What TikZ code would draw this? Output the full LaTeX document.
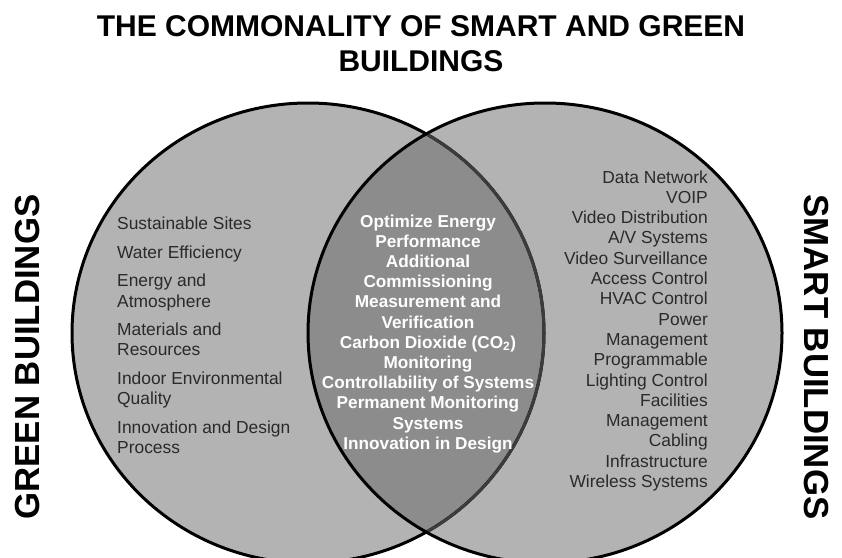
\documentclass[tikz,border=0pt]{standalone}
\usepackage{fontspec}
\setmainfont{Liberation Sans}
\definecolor{ringgray}{HTML}{B3B3B3}
\definecolor{lensgray}{HTML}{8C8C8C}
\definecolor{arcgray}{HTML}{3C3C3C}
\definecolor{txtgray}{HTML}{2A2A2A}
\begin{document}
\begin{tikzpicture}[x=1pt,y=-1pt,
  ring/.style={draw=black, line width=3pt},
  titletext/.style={font=\fontsize{30}{34}\selectfont\bfseries, text=black, inner sep=0pt, anchor=base},
  sidetext/.style={font=\fontsize{34.8}{38}\selectfont\bfseries, text=black, inner sep=0pt, anchor=center},
  leftitem/.style={font=\fontsize{17.4}{20}\selectfont, text=txtgray, inner sep=0pt, anchor=base west},
  rightitem/.style={font=\fontsize{17.4}{20}\selectfont, text=txtgray, inner sep=0pt, anchor=base east},
  lensitem/.style={font=\fontsize{17.2}{20}\selectfont\bfseries, text=white, inner sep=0pt, anchor=base}]
\useasboundingbox (0,0) rectangle (842,557);
\fill[white] (0,0) rectangle (842,557);
\clip (0,0) rectangle (842,557);
% circles
\fill[ringgray] (308,333) ellipse [x radius=236pt, y radius=230pt];
\fill[ringgray] (545,333) ellipse [x radius=237pt, y radius=230pt];
\begin{scope}
  \clip (308,333) ellipse [x radius=236pt, y radius=230pt];
  \fill[lensgray] (545,333) ellipse [x radius=237pt, y radius=230pt];
\end{scope}
\draw[ring] (308,333) ellipse [x radius=236pt, y radius=230pt];
\begin{scope}
  \clip (545,333) ellipse [x radius=237pt, y radius=230pt];
  \draw[ring, draw=arcgray] (308,333) ellipse [x radius=236pt, y radius=230pt];
\end{scope}
\draw[ring] (545,333) ellipse [x radius=237pt, y radius=230pt];
% title
\node[titletext] (title1) at (421,36) {THE COMMONALITY OF SMART AND GREEN};
\node[titletext] (title2) at (421,71) {BUILDINGS};
% side labels
\node[sidetext, rotate=90] (green) at (27.5,357) {GREEN BUILDINGS};
\node[sidetext, rotate=-90] (smart) at (816,357) {SMART BUILDINGS};
% green list
\foreach \yy/\t [count=\i] in {229/Sustainable Sites, 258/Water Efficiency, 286/Energy and, 307/Atmosphere, 335/Materials and, 355/Resources, 384/Indoor Environmental, 404/Quality, 433/Innovation and Design, 453/Process}
  \node[leftitem] (G\i) at (117,\yy) {\t};
% common list
\foreach \t [count=\i from 0] in {Optimize Energy, Performance, Additional, Commissioning, Measurement and, Verification, {Carbon Dioxide (CO\textsubscript{2})}, Monitoring, Controllability of Systems, Permanent Monitoring, Systems, Innovation in Design}
  \node[lensitem] (C\i) at (428,227+20.2*\i) {\t};
% smart list
\foreach \t [count=\i from 0] in {Data Network, VOIP, Video Distribution, {A/V Systems}, Video Surveillance, Access Control, HVAC Control, Power, Management, Programmable, Lighting Control, Facilities, Management, Cabling, Infrastructure, Wireless Systems}
  \node[rightitem] (S\i) at (708,183+20.3*\i) {\t};
\end{tikzpicture}
\end{document}
